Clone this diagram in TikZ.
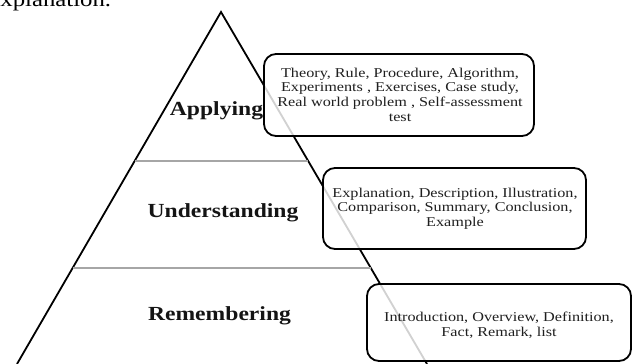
\documentclass[tikz,border=0pt]{standalone}
\usepackage{fontspec}
\setmainfont{Liberation Serif}
\usetikzlibrary{calc}
\begin{document}
\begin{tikzpicture}[x=1pt,y=-1pt,
  edge/.style={line width=1.8pt, black, line join=miter},
  divider/.style={line width=1.1pt, black!35},
  infobox/.style={draw=black, line width=1.8pt, rounded corners=12pt, fill=white, fill opacity=0.82, inner sep=0pt},
  boxtext/.style={font=\fontsize{13.5}{14.6}\selectfont, text=black!88, align=center, xscale=1.2, inner sep=0pt},
  level/.style={font=\fontsize{20}{22}\selectfont\bfseries, text=black!92, xscale=1.18, inner sep=0pt, anchor=base}]
\clip (0,0) rectangle (638,364);
% cropped caption above
\node[anchor=base west, font=\fontsize{21}{21}\selectfont, xscale=1.18, inner sep=0pt] (cap) at (-15,6) {Explanation.};
% pyramid
\coordinate (apex) at (221,12);
\coordinate (left) at (17,364);
\coordinate (right) at (427,364);
\draw[edge] (left) -- (apex) -- (right);
\coordinate (d1l) at ($(apex)!0.4233!(left)$);
\coordinate (d1r) at ($(apex)!0.4233!(right)$);
\coordinate (d2l) at ($(apex)!0.7273!(left)$);
\coordinate (d2r) at ($(apex)!0.7273!(right)$);
\draw[divider] (d1l) -- (d1r);
\draw[divider] (d2l) -- (d2r);
% level labels
\node[level] (apply) at (216.5,115) {Applying};
\node[level] (under) at (223,217) {Understanding};
\node[level] (remem) at (219.5,320) {Remembering};
% boxes
\node[infobox, minimum width=270pt, minimum height=82pt] (b1) at (399,95) {};
\node[infobox, minimum width=263pt, minimum height=81pt] (b2) at (454.5,208.5) {};
\node[infobox, minimum width=264pt, minimum height=77pt] (b3) at (499,322.5) {};
\node[boxtext] (t1) at (400,94.5) {Theory, Rule, Procedure, Algorithm,\\Experiments , Exercises, Case study,\\Real world problem , Self-assessment\\test};
\node[boxtext] (t2) at (455,208.5) {Explanation, Description, Illustration,\\Comparison, Summary, Conclusion,\\Example};
\node[boxtext] (t3) at (499,325) {Introduction, Overview, Definition,\\Fact, Remark, list};
\end{tikzpicture}
\end{document}
